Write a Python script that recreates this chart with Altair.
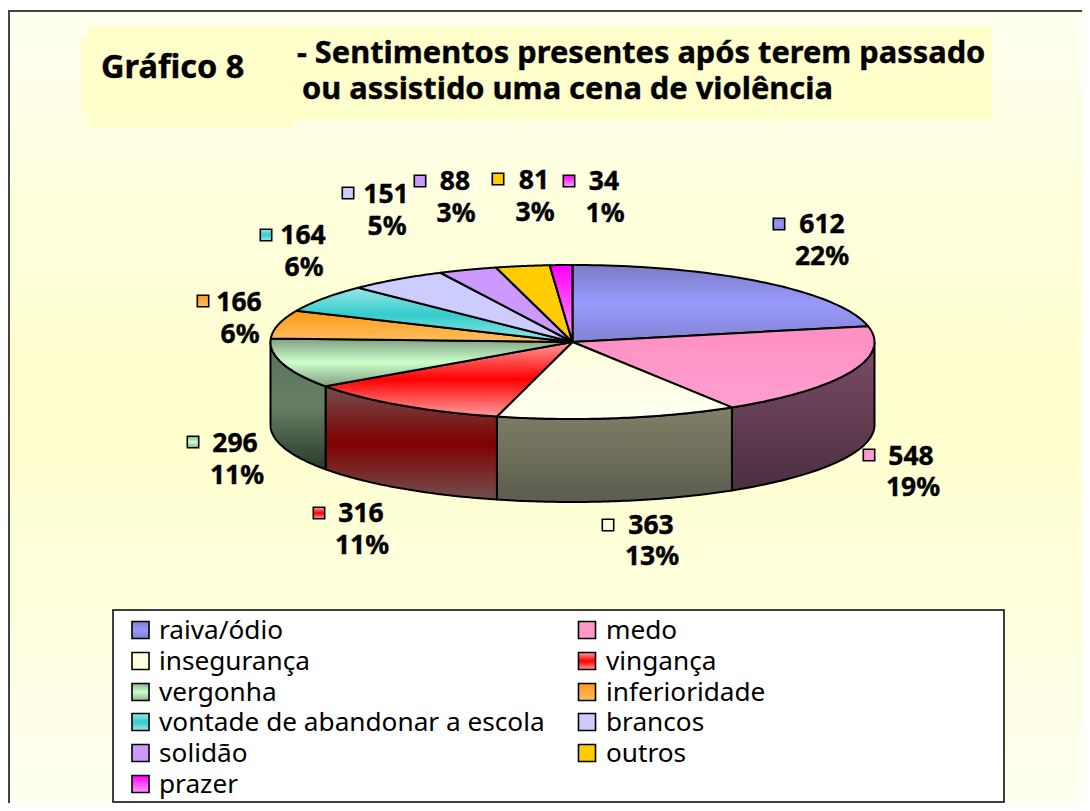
import altair as alt
import numpy as np
import pandas as pd

names = ["raiva/ódio", "medo", "insegurança", "vingança", "vergonha", "inferioridade",
         "vontade de abandonar a escola", "brancos", "solidão", "outros", "prazer"]
values = [612, 548, 363, 316, 296, 166, 164, 151, 88, 81, 34]

title_left = "Gráfico 8"
title_lines = ["- Sentimentos presentes após terem passado", "ou assistido uma cena de violência"]

W, H = 1074, 795
SX = alt.Scale(domain=[8, 8 + W], range=[0, W], zero=False, nice=False)
SY = alt.Scale(domain=[8, 8 + H], range=[0, H], zero=False, nice=False)
FONT = "Noto Sans"


def grad(*cols, horizontal=False):
    n = len(cols) - 1
    return {"gradient": "linear", "x1": 0, "y1": 0,
            "x2": 1 if horizontal else 0, "y2": 0 if horizontal else 1,
            "stops": [{"offset": i / n if n else 0, "color": c} for i, c in enumerate(cols)]}


top_fill = [
    grad("#7c7cc4", "#9999ff", "#8282d2"),
    grad("#ff8fc2", "#ff9fd0"),
    grad("#ffffdd", "#fffff2"),
    grad("#ff9c9c", "#ff0000", "#ff9c9c"),
    grad("#7f9f7f", "#ccffcc", "#7f9f7f"),
    grad("#ff9a14", "#ffbe60"),
    grad("#99e6e6", "#33cccc", "#99e6e6"),
    "#ccccff", "#cc99ff", "#ffcc00",
    grad("#ff00ff", "#ff99ff"),
]
swatch_fill = [
    grad("#8080cc", "#9999ff", "#8080cc"), "#ff99cc", "#ffffdd",
    grad("#ff9c9c", "#ff0000", "#ff9c9c"),
    grad("#8fb08f", "#ccffcc", "#8fb08f"),
    grad("#ff9a14", "#ffbe60"),
    grad("#99e6e6", "#33cccc", "#99e6e6"),
    "#ccccff", "#cc99ff", "#ffcc00",
    grad("#ff00ff", "#ff99ff"),
]
wall_fill = {
    1: grad("#7c4d65", "#4a2f3f"),
    2: grad("#808066", "#5c5c50"),
    3: grad("#734f4f", "#800000", "#734f4f"),
    4: grad("#5c6f5c", "#667f66", "#2a3a2a"),
}

# pie geometry
CX, CY, RX, RY, DEPTH = 572.5, 342, 302, 77, 83


def ell(theta, dy=0.0):
    t = np.radians(theta)
    return CX + RX * np.sin(t), CY - RY * np.cos(t) + dy


edges = np.concatenate([[0], np.cumsum(values)]) / sum(values) * 360
layers = []


def xy(field_x="x", field_y="y"):
    return dict(x=alt.X(f"{field_x}:Q", scale=SX, axis=None), y=alt.Y(f"{field_y}:Q", scale=SY, axis=None))


def box(x1, x2, y1, y2, **kw):
    d = pd.DataFrame({"x": [x1], "x2": [x2], "y": [y1], "y2": [y2]})
    return alt.Chart(d).mark_rect(**kw).encode(**xy(), x2="x2:Q", y2="y2:Q")


def poly(px, py, fill):
    d = pd.DataFrame({"x": px, "y": py, "i": np.arange(len(px))})
    return alt.Chart(d).mark_line(fill=fill, stroke="#000000", strokeWidth=2, strokeJoin="round", clip=False).encode(
        **xy(), order=alt.Order("i:Q"))


# page panel
layers.append(box(8, 8 + W, 11, 8 + H, fill=grad("#fffff0", "#ffffcc", "#fffff0")))
layers.append(box(8, 8 + W, 10, 12, fill="#444444"))
layers.append(box(8, 10, 10, 8 + H, fill="#444444"))
# title panels
layers.append(box(81, 294, 37.5, 114, fill="#ffffcc"))
layers.append(box(88, 294, 26, 127, fill="#ffffcc"))
layers.append(box(294, 992, 27, 120, fill="#ffffcc"))


def text(rows, size, weight, color="#000000", align="left", baseline="alphabetic", **kw):
    d = pd.DataFrame(rows, columns=["x", "y", "t"])
    return alt.Chart(d).mark_text(font=FONT, fontSize=size, fontWeight=weight, color=color,
                                  align=align, baseline=baseline, **kw).encode(**xy(), text="t:N")


HEAVY = dict(stroke="#000000", strokeWidth=0.4)
layers.append(text([(101, 78, title_left)], 32.5, "bold", **HEAVY))
layers.append(text([(297, 63, title_lines[0]), (302, 99, title_lines[1])], 30.8, "bold", **HEAVY))

# side walls of the front half, then the top faces
for i, fill in wall_fill.items():
    a, b = max(edges[i], 90), min(edges[i + 1], 270)
    th = np.linspace(a, b, 60)
    x1, y1 = ell(th)
    x2, y2 = ell(th[::-1], DEPTH)
    layers.append(poly(np.r_[x1, x2, x1[:1]], np.r_[y1, y2, y1[:1]], fill))

for i, fill in enumerate(top_fill):
    th = np.linspace(edges[i], edges[i + 1], 60)
    x1, y1 = ell(th)
    layers.append(poly(np.r_[CX, x1, CX], np.r_[CY, y1, CY], fill))

# data labels
marker_pos = [(779, 224), (869, 455), (608, 525), (319, 513), (193, 442), (203, 301),
              (266, 235), (348, 193), (420, 181), (498, 179), (569, 181)]
value_pos = [(822, 225), (911, 457), (651, 526), (361, 514), (235, 444), (239, 303),
             (303, 236), (386, 195), (455, 182), (534, 181), (604, 182)]
pct_pos = [(822, 257), (913, 488), (652, 557), (362, 546), (237, 476), (240, 335),
           (304, 268), (387, 227), (456, 214), (535, 213), (605, 214)]


def swatch(x, y, size, fill):
    d = pd.DataFrame({"x": [x], "y": [y]})
    return alt.Chart(d).mark_point(shape="square", size=size, filled=True, fill=fill, stroke="#000000",
                                   strokeWidth=1.6, opacity=1).encode(**xy())


total = sum(values)
rows = []
for i, v in enumerate(values):
    layers.append(swatch(*marker_pos[i], 130, swatch_fill[i]))
    rows.append((*value_pos[i], str(v)))
    rows.append((*pct_pos[i], f"{round(100 * v / total)}%"))
layers.append(text(rows, 26.5, "bold", align="center", baseline="middle", **HEAVY))

# legend
layers.append(box(113, 1004, 610, 802, fill="#ffffff", stroke="#000000", strokeWidth=1.5))
leg = []
leg_y = [630, 661, 692, 722, 753, 784]
for i, n in enumerate(names):
    col, row = i % 2, i // 2
    layers.append(swatch([140.5, 587][col], leg_y[row], 290, swatch_fill[i]))
    leg.append(([159, 606][col], leg_y[row] + 9, n))
layers.append(text(leg, 26.2, "normal"))

chart = alt.layer(*layers).properties(
    width=W, height=H, padding=0, autosize=alt.AutoSizeParams(type="none"),
    background="#ffffff",
).configure_view(stroke=None)

chart.save("out.html", embed_options={"renderer": "svg", "actions": False})
